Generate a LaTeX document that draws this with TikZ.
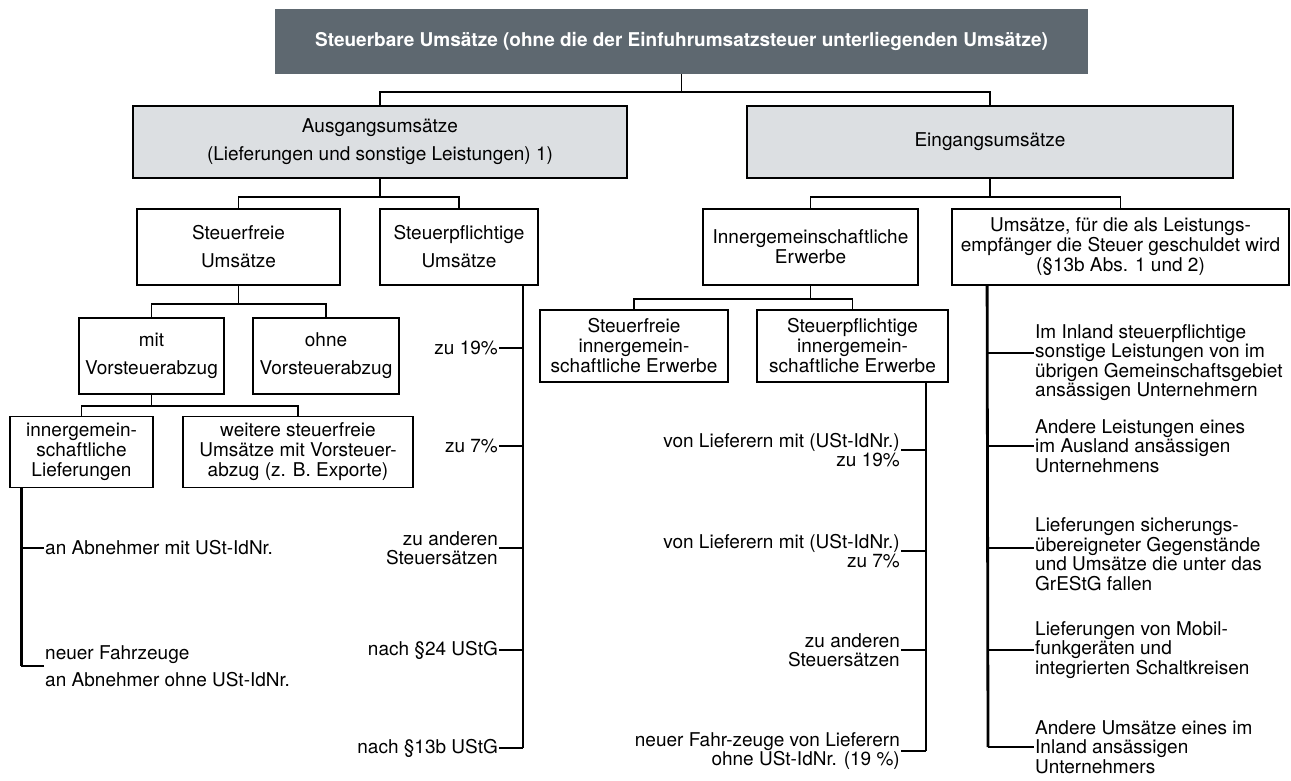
\documentclass[tikz,border=0pt]{standalone}
\usepackage{fontspec}
\setmainfont{TeX Gyre Heros}
\usetikzlibrary{positioning}

\definecolor{titlegray}{HTML}{5E6870}
\definecolor{headgray}{HTML}{DCDFE2}

\tikzset{
  box/.style={draw, line width=1.8pt, fill=white, align=center, inner sep=0pt,
    font=\fontsize{19}{20}\selectfont},
  headbox/.style={box, fill=headgray},
  leafl/.style={anchor=east, align=right, inner xsep=1pt, inner ysep=0pt,
    font=\fontsize{19}{19.5}\selectfont},
  leafr/.style={anchor=west, align=left, inner xsep=1pt, inner ysep=0pt,
    font=\fontsize{19}{19.5}\selectfont},
  link/.style={line width=1.8pt},
  trunk/.style={line width=2.8pt},
}

\begin{document}
\begin{tikzpicture}[x=1pt, y=-1pt]
    \useasboundingbox (0,0) rectangle (1291,780);

    % top and second level
    \node[fill=titlegray, text=white, minimum width=813, minimum height=65,
      font=\fontsize{19}{21}\selectfont\bfseries] (steuerbar) at (681.5,41.5)
      {Steuerbare Umsätze (ohne die der Einfuhrumsatzsteuer unterliegenden Umsätze)};
    \node[headbox, minimum width=494, minimum height=72] (ausgang) at (380,142)
      {Ausgangsumsätze\\[8pt](Lieferungen und sonstige Leistungen) 1)};
    \node[headbox, minimum width=486, minimum height=72] (eingang) at (990,142)
      {Eingangsumsätze};

    % third level
    \node[box, minimum width=203, minimum height=76] (sfrei) at (238.5,247)
      {Steuerfreie\\[8pt]Umsätze};
    \node[box, minimum width=158, minimum height=76] (spflicht) at (459,247)
      {Steuerpflichtige\\[8pt]Umsätze};
    \node[box, minimum width=215, minimum height=76] (igerw) at (810.5,247)
      {Innergemeinschaftliche\\Erwerbe};
    \node[box, minimum width=337, minimum height=76] (rcharge) at (1120.5,247)
      {Umsätze, für die als Leistungs-\\empfänger die Steuer geschuldet wird\\(§13b Abs. 1 und 2)};

    % fourth level
    \node[box, minimum width=145, minimum height=76] (mitvst) at (151.5,356)
      {mit\\[8pt]Vorsteuerabzug};
    \node[box, minimum width=146, minimum height=76] (ohnevst) at (326,356)
      {ohne\\[8pt]Vorsteuerabzug};
    \node[box, minimum width=188, minimum height=72] (sfig) at (634,346)
      {Steuerfreie\\innergemein-\\schaftliche Erwerbe};
    \node[box, minimum width=191, minimum height=72] (spig) at (852.5,346)
      {Steuerpflichtige\\innergemein-\\schaftliche Erwerbe};

    % fifth level
    \node[box, minimum width=143, minimum height=71] (iglief) at (81.5,452)
      {innergemein-\\schaftliche\\Lieferungen};
    \node[box, minimum width=230, minimum height=71] (weitere) at (298,452)
      {weitere steuerfreie\\Umsätze mit Vorsteuer-\\abzug (z. B. Exporte)};

    % tree connectors
    \draw[link] (steuerbar.south) -- ++(0,18) coordinate (b0);
    \draw[link] (ausgang.north) |- (b0) -| (eingang.north);
    \draw[link] (ausgang.south) -- ++(0,18) coordinate (b1);
    \draw[link] (sfrei.north) |- (b1) -| (spflicht.north);
    \draw[link] (eingang.south) -- ++(0,18) coordinate (b2);
    \draw[link] (igerw.north) |- (b2) -| (rcharge.north);
    \draw[link] (sfrei.south) -- ++(0,18) coordinate (b3);
    \draw[link] (mitvst.north) |- (b3) -| (ohnevst.north);
    \draw[link] (igerw.south) -- ++(0,13) coordinate (b4);
    \draw[link] (sfig.north) |- (b4) -| (spig.north);
    \draw[link] (mitvst.south) -- ++(0,11) coordinate (b5);
    \draw[link] (iglief.north) |- (b5) -| (weitere.north);

    % innergemeinschaftliche Lieferungen
    \coordinate (t0) at ([xshift=12]iglief.south west);
    \node[leafr] (abn1) at (44,548) {an Abnehmer mit USt-IdNr.};
    \node[leafr] (abn2) at (44,666) {neuer Fahrzeuge\\[8pt]an Abnehmer ohne USt-IdNr.};
    \draw[trunk] (t0) -- (t0 |- abn2.west);
    \foreach \n in {abn1,abn2}
      \draw[link] (\n.west) -- (\n.west -| t0);

    % steuerpflichtige Umsaetze
    \coordinate (t1) at ([xshift=-16]spflicht.south east);
    \node[leafl] (z19) at (499,348) {zu 19\%};
    \node[leafl] (z7) at (499,446) {zu 7\%};
    \node[leafl] (zand) at (499,548) {zu anderen\\Steuersätzen};
    \node[leafl] (p24) at (499,650) {nach §24 UStG};
    \node[leafl] (p13b) at (499,748) {nach §13b UStG};
    \draw[trunk] (t1) -- (t1 |- p13b.east);
    \foreach \n in {z19,z7,zand,p24,p13b}
      \draw[link] (\n.east) -- (\n.east -| t1);

    % steuerpflichtige innergemeinschaftliche Erwerbe
    \coordinate (t2) at ([xshift=-23]spig.south east);
    \node[leafl] (v19) at (901,450) {von Lieferern mit (USt-IdNr.)\\zu 19\%};
    \node[leafl] (v7) at (901,551) {von Lieferern mit (USt-IdNr.)\\zu 7\%};
    \node[leafl] (vand) at (901,650) {zu anderen\\Steuersätzen};
    \node[leafl] (vfz) at (901,751) {neuer Fahr-zeuge von Lieferern\\ohne USt-IdNr. (19 \%)};
    \draw[trunk] (t2) -- (t2 |- vfz.east);
    \foreach \n in {v19,v7,vand,vfz}
      \draw[link] (\n.east) -- (\n.east -| t2);

    % Steuerschuldner Leistungsempfaenger
    \coordinate (t3) at ([xshift=36]rcharge.south west);
    \coordinate (k1) at (988,353);
    \coordinate (k2) at (988,446);
    \coordinate (k3) at (988,548);
    \coordinate (k4) at (988,650);
    \coordinate (k5) at (988,747);
    \node[leafr, right=46pt of k1, yshift=-9.5pt] (r1)
      {Im Inland steuerpflichtige\\sonstige Leistungen von im\\übrigen Gemeinschaftsgebiet\\ansässigen Unternehmern};
    \node[leafr, right=46pt of k2] (r2)
      {Andere Leistungen eines\\im Ausland ansässigen\\Unternehmens};
    \node[leafr, right=46pt of k3, yshift=-6pt] (r3)
      {Lieferungen sicherungs-\\übereigneter Gegenstände\\und Umsätze die unter das\\GrEStG fallen};
    \node[leafr, right=46pt of k4] (r4)
      {Lieferungen von Mobil-\\funkgeräten und\\integrierten Schaltkreisen};
    \node[leafr, right=46pt of k5] (r5)
      {Andere Umsätze eines im\\Inland ansässigen\\Unternehmers};
    \draw[trunk] (t3) -- (k5);
    \foreach \k/\n in {k1/r1,k2/r2,k3/r3,k4/r4,k5/r5}
      \draw[link] (\k) -- (\n.west |- \k);
\end{tikzpicture}
\end{document}
